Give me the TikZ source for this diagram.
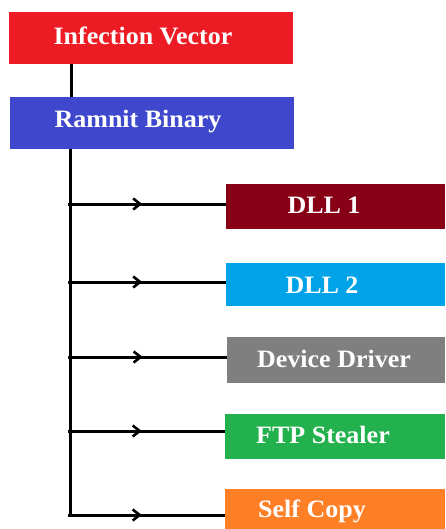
\documentclass[tikz,border=0pt]{standalone}
\usepackage{fontspec}
\setmainfont{Liberation Serif}[FakeStretch=1.04]
\usetikzlibrary{arrows.meta,decorations.markings}
\definecolor{vecred}{HTML}{ED1C24}
\definecolor{binblue}{HTML}{3F48CC}
\definecolor{dllone}{HTML}{880015}
\definecolor{dlltwo}{HTML}{00A2E8}
\definecolor{drvgray}{HTML}{7F7F7F}
\definecolor{ftpgreen}{HTML}{22B14C}
\definecolor{copyorange}{HTML}{FF7F27}
\begin{document}
\begin{tikzpicture}
[x=1pt,y=-1pt,
  boxDecorate/.style={rectangle,anchor=north west,inner sep=0pt,draw=none},
  textDecorate/.style={anchor=base,text=white,font=\fontsize{25}{28}\selectfont\bfseries},
  lineDecorate/.style={-,line width=3pt},
  branchDecorate/.style={lineDecorate,postaction={decorate},
    decoration={markings,mark=at position 0.47 with {\arrow{Straight Barb[length=7pt,width=11pt,line width=2.6pt]}}}}]
\useasboundingbox (0,0) rectangle (445,529);
%% top boxes
\node (vector) at (9,12) [boxDecorate,fill=vecred,minimum width=284pt,minimum height=52pt] {};
\node (binary) at (10,97) [boxDecorate,fill=binblue,minimum width=284pt,minimum height=52pt] {};
\node at (143,45) [textDecorate] {Infection Vector};
\node at (138,128) [textDecorate] {Ramnit Binary};
\coordinate (trunkTop) at (70,149);
\coordinate (trunkEnd) at (70,517);
\draw[lineDecorate] (vector.south -| 71,0) -- (binary.north -| 71,0);
\draw[lineDecorate] (trunkTop) -- (trunkEnd);
%% modules and branches
\foreach \nodename/\x/\y/\h/\col/\ay/\tx/\ty/\txt in {
  dlla/226/184/45/dllone/204/324/213/DLL 1,
  dllb/226/263/43/dlltwo/282/322/293/DLL 2,
  driver/227/337/46/drvgray/357/334/367/Device Driver,
  ftp/225/414/45/ftpgreen/431/323/443/FTP Stealer,
  selfcopy/225/489/44/copyorange/515/312/517/Self Copy}
{
  \pgfmathsetlengthmacro{\w}{445-\x}
  \node (\nodename) at (\x,\y) [boxDecorate,fill=\col,minimum width=\w,minimum height=\h pt] {};
  \node at (\tx,\ty) [textDecorate] {\txt};
  \draw[branchDecorate] ([xshift=-2pt]trunkTop |- 0,\ay) -- (\nodename.west |- 0,\ay);
}
\end{tikzpicture}
\end{document}
